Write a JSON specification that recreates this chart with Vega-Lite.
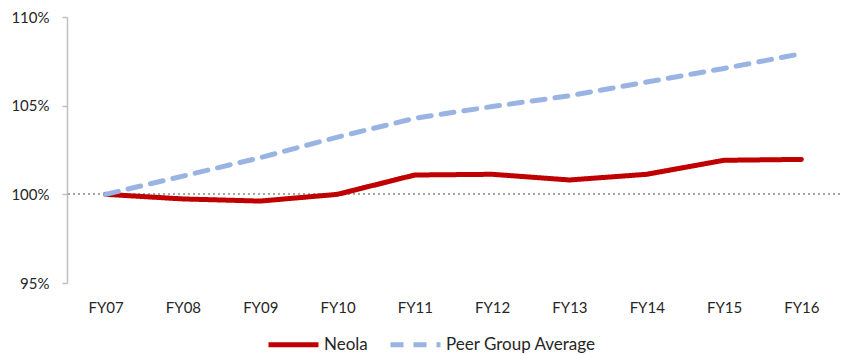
{
  "$schema": "https://vega.github.io/schema/vega-lite/v6.json",
  "autosize": "none",
  "width": 773,
  "height": 266,
  "padding": {"left": 67, "top": 17, "right": 5, "bottom": 72},
  "background": "white",
  "config": {
    "view": {"stroke": null},
    "font": "Lato",
    "axis": {"labelFont": "Lato", "labelFontSize": 15, "labelColor": "#262626"}
  },
  "data": {
    "values": [
      {"year": "FY07", "series": "Neola", "value": 100.0},
      {"year": "FY08", "series": "Neola", "value": 99.74},
      {"year": "FY09", "series": "Neola", "value": 99.62},
      {"year": "FY10", "series": "Neola", "value": 100.0},
      {"year": "FY11", "series": "Neola", "value": 101.09},
      {"year": "FY12", "series": "Neola", "value": 101.13},
      {"year": "FY13", "series": "Neola", "value": 100.81},
      {"year": "FY14", "series": "Neola", "value": 101.13},
      {"year": "FY15", "series": "Neola", "value": 101.92},
      {"year": "FY16", "series": "Neola", "value": 101.97},
      {"year": "FY07", "series": "Peer Group Average", "value": 100.0},
      {"year": "FY08", "series": "Peer Group Average", "value": 101.03},
      {"year": "FY09", "series": "Peer Group Average", "value": 102.07},
      {"year": "FY10", "series": "Peer Group Average", "value": 103.23},
      {"year": "FY11", "series": "Peer Group Average", "value": 104.29},
      {"year": "FY12", "series": "Peer Group Average", "value": 104.95},
      {"year": "FY13", "series": "Peer Group Average", "value": 105.56},
      {"year": "FY14", "series": "Peer Group Average", "value": 106.33},
      {"year": "FY15", "series": "Peer Group Average", "value": 107.1},
      {"year": "FY16", "series": "Peer Group Average", "value": 107.93}
    ]
  },
  "layer": [
    {
      "mark": {"type": "rule", "color": "#a6a6a6", "strokeWidth": 1.5, "strokeDash": [2, 3]},
      "encoding": {"y": {"datum": 100, "type": "quantitative"}}
    },
    {
      "mark": {"type": "line", "strokeWidth": 5, "strokeCap": "round", "strokeJoin": "round"},
      "encoding": {
        "x": {
          "field": "year", "type": "ordinal",
          "scale": {"type": "point", "padding": 0.5},
          "axis": {"title": null, "domain": false, "ticks": false, "labelAngle": 0, "labelPadding": 17}
        },
        "y": {
          "field": "value", "type": "quantitative",
          "scale": {"domain": [95, 110], "zero": false, "nice": false},
          "axis": {
            "title": null, "values": [95, 100, 105, 110], "grid": false,
            "domainColor": "#bfbfbf", "domainWidth": 1.5, "tickColor": "#bfbfbf", "tickSize": 5, "tickWidth": 1.5,
            "labelPadding": 13, "labelExpr": "datum.value + '%'"
          }
        },
        "color": {
          "field": "series", "type": "nominal",
          "scale": {"domain": ["Neola", "Peer Group Average"], "range": ["#C00000", "#99B4E3"]},
          "legend": {
            "title": null, "orient": "none", "direction": "horizontal",
            "legendX": 199, "legendY": 300, "padding": 0,
            "symbolType": "stroke", "symbolSize": 2500, "symbolStrokeWidth": 5,
            "labelFont": "Lato", "labelFontSize": 17, "labelColor": "#262626",
            "columnPadding": 12, "labelOffset": 3
          }
        },
        "strokeDash": {
          "field": "series", "type": "nominal",
          "scale": {"domain": ["Neola", "Peer Group Average"], "range": [[1, 0], [13, 10]]},
          "legend": null
        }
      }
    }
  ]
}
